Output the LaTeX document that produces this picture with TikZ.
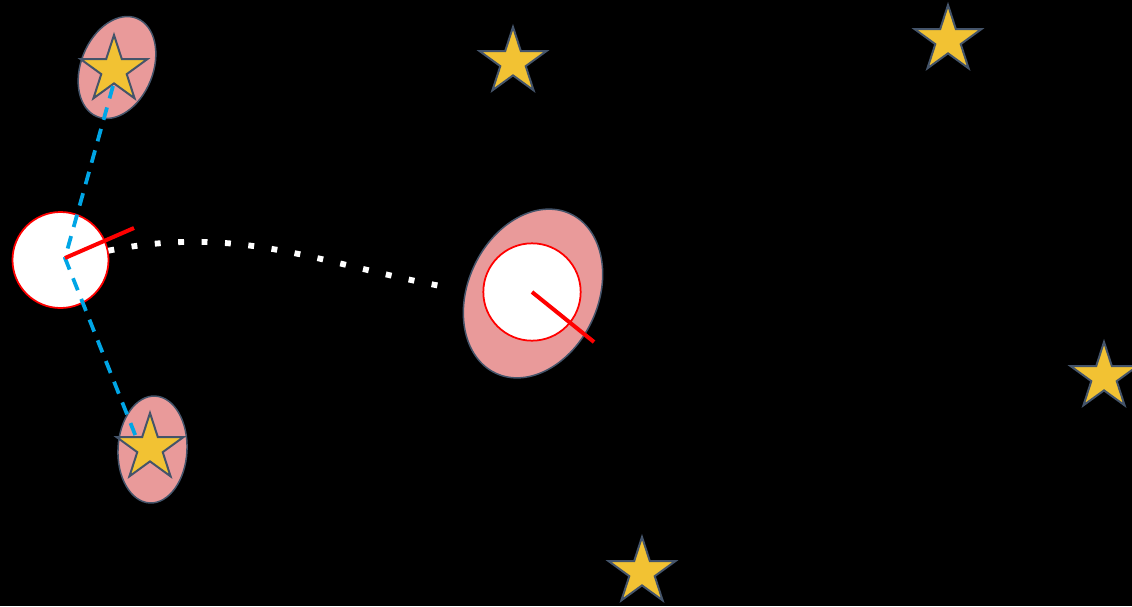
\documentclass[tikz,border=0pt]{standalone}
\usepackage{tikz}
\usetikzlibrary{shapes.geometric}
\definecolor{slate}{HTML}{44546A}
\definecolor{gold}{HTML}{F2C233}
\definecolor{rose}{HTML}{E99A9A}
\definecolor{sky}{HTML}{00A6E6}
\tikzset{
  goldstar/.style={star,star points=5,star point ratio=2.618,draw=slate,fill=gold,
    line width=1.7pt,inner sep=0pt,minimum size=2.1cm},
  blob/.style={ellipse,draw=slate,fill=rose,line width=1.3pt,inner sep=0pt},
  disk/.style={circle,draw=red,fill=white,line width=1.5pt,inner sep=0pt,minimum size=2.88cm},
  beam/.style={red,line width=3.4pt},
  link/.style={sky,line width=3.2pt,dash pattern=on 11pt off 8pt},
  trail/.style={white,line width=5pt,dash pattern=on 5pt off 15pt}
}
\begin{document}
\begin{tikzpicture}[x=0.03cm,y=-0.03cm]
\fill[black] (0,0) rectangle (1132,606);
\useasboundingbox (0,0) rectangle (1132,606);
% halos
\node[blob,minimum width=2.16cm,minimum height=3.18cm,rotate=-22] (halotop) at (117,67.5) {};
\node[blob,minimum width=2.07cm,minimum height=3.21cm,rotate=-3] (halobot) at (152.5,449.5) {};
\node[blob,minimum width=3.9cm,minimum height=5.28cm,rotate=-25] (halomid) at (533,293.5) {};
% stars
\node[goldstar] (stara) at (114,70) {};
\node[goldstar] (starb) at (150,448) {};
\node[goldstar] (starc) at (513,62) {};
\node[goldstar] (stard) at (948,40) {};
\node[goldstar] (stare) at (1104,377) {};
\node[goldstar] (starf) at (642,572) {};
% disks
\node[disk] (leftdisk) at (60.5,260) {};
\node[disk,minimum size=2.92cm] (middisk) at (532,292) {};
\coordinate (hub) at (65,258);
\coordinate (linktop) at (113,86);
\coordinate (linkbot) at (138,442);
\coordinate (beamleft) at (134,228);
\coordinate (beammid) at (594,342);
\coordinate (trailend) at (446,287);
\draw[link] (linktop) -- (hub) -- (linkbot);
\draw[beam] (hub) -- (beamleft);
\draw[beam] (middisk.center) -- (beammid);
\draw[trail] (leftdisk.11) .. controls (240,224) and (320,264) .. (trailend);
\end{tikzpicture}
\end{document}
